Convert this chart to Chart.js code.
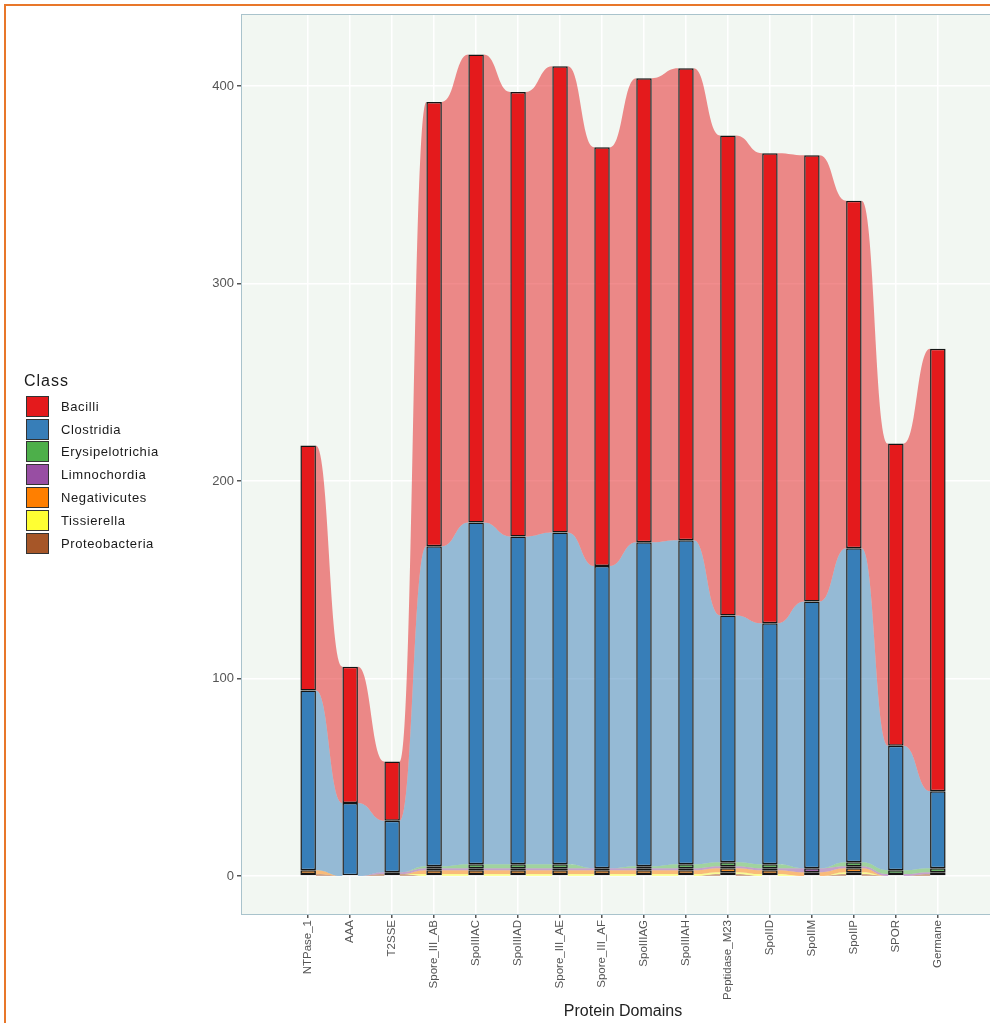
<!DOCTYPE html>
<html>
<head>
<meta charset="utf-8">
<title>Protein Domains by Class</title>
<script src="https://cdn.jsdelivr.net/npm/chart.js@4.4.1/dist/chart.umd.min.js"></script>
<style>
  html, body { margin: 0; padding: 0; background: #fff; overflow: hidden; }
  body { width: 990px; height: 1023px; position: relative; font-family: "Liberation Sans", Arial, sans-serif; }
  #frame { position: absolute; left: 4px; top: 4px; width: 1100px; height: 1100px;
           border-top: 2px solid #e8772a; border-left: 2px solid #e8772a; }
  #chart { position: absolute; left: 0; top: 0; }
  #legend { position: absolute; left: 24px; top: 372px; color: #1a1a1a; }
  #legend .title { font-size: 16px; letter-spacing: 1px; margin-bottom: 5px; }
  #legend .item { display: flex; align-items: center; height: 22.8px; }
  #legend .sw { width: 23px; height: 21px; margin-left: 2px; box-sizing: border-box; border: 1px solid #333; }
  #legend .lbl { font-size: 13px; letter-spacing: 0.6px; margin-left: 12px; }
</style>
</head>
<body>
<div id="frame"></div>
<canvas id="chart" width="1012" height="1023"></canvas>
<div id="legend"></div>
<script>
const domains = ['NTPase_1', 'AAA', 'T2SSE', 'Spore_III_AB', 'SpoIIIAC', 'SpoIIIAD', 'Spore_III_AE', 'Spore_III_AF',
                 'SpoIIIAG', 'SpoIIIAH', 'Peptidase_M23', 'SpoIID', 'SpoIIM', 'SpoIIP', 'SPOR', 'Germane'];

// counts per class, one value per domain
const bacilli          = [124, 69, 30, 225, 237, 225, 236, 212, 235, 239, 243, 238, 226, 176, 153, 224];
const clostridia       = [91, 37, 26, 162, 173, 166, 168, 153, 164, 164, 125, 122, 135, 159, 63, 39];
const erysipelotrichia = [0, 0, 0, 1, 2, 2, 2, 0, 1, 2, 2, 2, 0, 2, 2, 2];
const limnochordia     = [0, 0, 1, 1, 1, 1, 1, 1, 1, 1, 1, 1, 2, 1, 1, 1];
const negativicutes    = [2, 0, 0, 2, 2, 2, 2, 2, 2, 2, 2, 2, 2, 2, 0, 0];
const tissierella      = [0, 0, 0, 1, 1, 1, 1, 1, 1, 1, 1, 1, 0, 1, 0, 0];
const proteobacteria   = [1, 0, 1, 0, 0, 0, 0, 0, 0, 0, 1, 0, 0, 1, 0, 1];

const yTicks = [0, 100, 200, 300, 400];

// stacked bottom to top
const classes = [
  { name: 'Proteobacteria',   values: proteobacteria,   color: '#A65628' },
  { name: 'Tissierella',      values: tissierella,      color: '#FFFF33' },
  { name: 'Negativicutes',    values: negativicutes,    color: '#FF7F00' },
  { name: 'Limnochordia',     values: limnochordia,     color: '#984EA3' },
  { name: 'Erysipelotrichia', values: erysipelotrichia, color: '#4DAF4A' },
  { name: 'Clostridia',       values: clostridia,       color: '#377EB8' },
  { name: 'Bacilli',          values: bacilli,          color: '#E41A1C' },
];

function withAlpha(hex, a) {
  const n = parseInt(hex.slice(1), 16);
  return `rgba(${n >> 16}, ${(n >> 8) & 255}, ${n & 255}, ${a})`;
}

// panel background + border
const panelPlugin = {
  id: 'panel',
  beforeDraw(chart) {
    const { ctx, chartArea: a } = chart;
    ctx.save();
    ctx.fillStyle = '#f2f7f2';
    ctx.fillRect(a.left, a.top, a.right - a.left, a.bottom - a.top);
    ctx.restore();
  },
  afterDraw(chart) {
    const { ctx, chartArea: a } = chart;
    ctx.save();
    ctx.strokeStyle = '#a9c3cc';
    ctx.lineWidth = 1;
    ctx.strokeRect(a.left + 0.5, a.top + 0.5, a.right - a.left, a.bottom - a.top);
    ctx.restore();
  }
};

// smooth flows joining each class between neighbouring bars
const flowPlugin = {
  id: 'flows',
  beforeDatasetsDraw(chart) {
    const { ctx, chartArea: a, scales: { x, y } } = chart;
    const ref = chart.getDatasetMeta(classes.length - 1).data;
    ctx.save();
    ctx.beginPath();
    ctx.rect(a.left, a.top, a.right - a.left, a.bottom - a.top);
    ctx.clip();
    const base = domains.map(() => 0);
    classes.forEach(c => {
      ctx.fillStyle = withAlpha(c.color, 0.5);
      for (let i = 0; i < domains.length - 1; i++) {
        const x0 = x.getPixelForValue(i) + ref[i].width / 2;
        const x1 = x.getPixelForValue(i + 1) - ref[i + 1].width / 2;
        const xm = (x0 + x1) / 2;
        const lo0 = y.getPixelForValue(base[i]);
        const lo1 = y.getPixelForValue(base[i + 1]);
        const hi0 = y.getPixelForValue(base[i] + c.values[i]);
        const hi1 = y.getPixelForValue(base[i + 1] + c.values[i + 1]);
        ctx.beginPath();
        ctx.moveTo(x0, hi0);
        ctx.bezierCurveTo(xm, hi0, xm, hi1, x1, hi1);
        ctx.lineTo(x1, lo1);
        ctx.bezierCurveTo(xm, lo1, xm, lo0, x0, lo0);
        ctx.closePath();
        ctx.fill();
      }
      c.values.forEach((v, i) => { base[i] += v; });
    });
    ctx.restore();
  }
};

const datasets = classes.map(c => ({
  label: c.name,
  data: c.values.map((v, i) => ({ x: i, y: v === 0 ? null : v })),
  backgroundColor: c.color,
  borderColor: '#151515',
  borderWidth: 1.5,
  borderSkipped: false,
  categoryPercentage: 1,
  barPercentage: 0.37,
}));

const font = '"Liberation Sans", Arial, sans-serif';

new Chart(document.getElementById('chart').getContext('2d'), {
  type: 'bar',
  data: { datasets },
  options: {
    responsive: false,
    animation: false,
    devicePixelRatio: 1,
    layout: { padding: { left: 206, top: 14, right: 7, bottom: 2 } },
    plugins: { legend: { display: false }, tooltip: { enabled: false } },
    scales: {
      x: {
        type: 'linear',
        stacked: true,
        offset: false,
        min: -1.6,
        max: 16.6,
        afterBuildTicks: s => { s.ticks = domains.map((_, i) => ({ value: i })); },
        afterFit: s => { s.height = 107; },
        ticks: {
          autoSkip: false,
          minRotation: 90,
          maxRotation: 90,
          padding: 2,
          color: '#555',
          font: { family: font, size: 11.5 },
          callback: v => domains[v] ?? '',
        },
        grid: { offset: false, color: '#ffffff', lineWidth: 1.5, tickColor: '#555', tickLength: 4 },
        border: { display: false },
        title: {
          display: true,
          text: 'Protein Domains',
          color: '#222',
          padding: { top: 0, bottom: 0 },
          font: { family: font, size: 16 },
        },
      },
      y: {
        stacked: true,
        min: -19.2,
        max: 436.5,
        afterBuildTicks: s => { s.ticks = yTicks.map(v => ({ value: v })); },
        afterFit: s => { s.width = 35; },
        ticks: {
          padding: 3,
          color: '#555',
          font: { family: font, size: 13 },
        },
        grid: { color: '#ffffff', lineWidth: 1.5, tickColor: '#555', tickLength: 4 },
        border: { display: false },
      },
    },
  },
  plugins: [panelPlugin, flowPlugin],
});

// legend, top to bottom as Bacilli ... Proteobacteria
const legend = document.getElementById('legend');
legend.innerHTML = '<div class="title">Class</div>' + classes.slice().reverse().map(c =>
  `<div class="item"><div class="sw" style="background:${c.color}"></div><div class="lbl">${c.name}</div></div>`
).join('');
</script>
</body>
</html>
